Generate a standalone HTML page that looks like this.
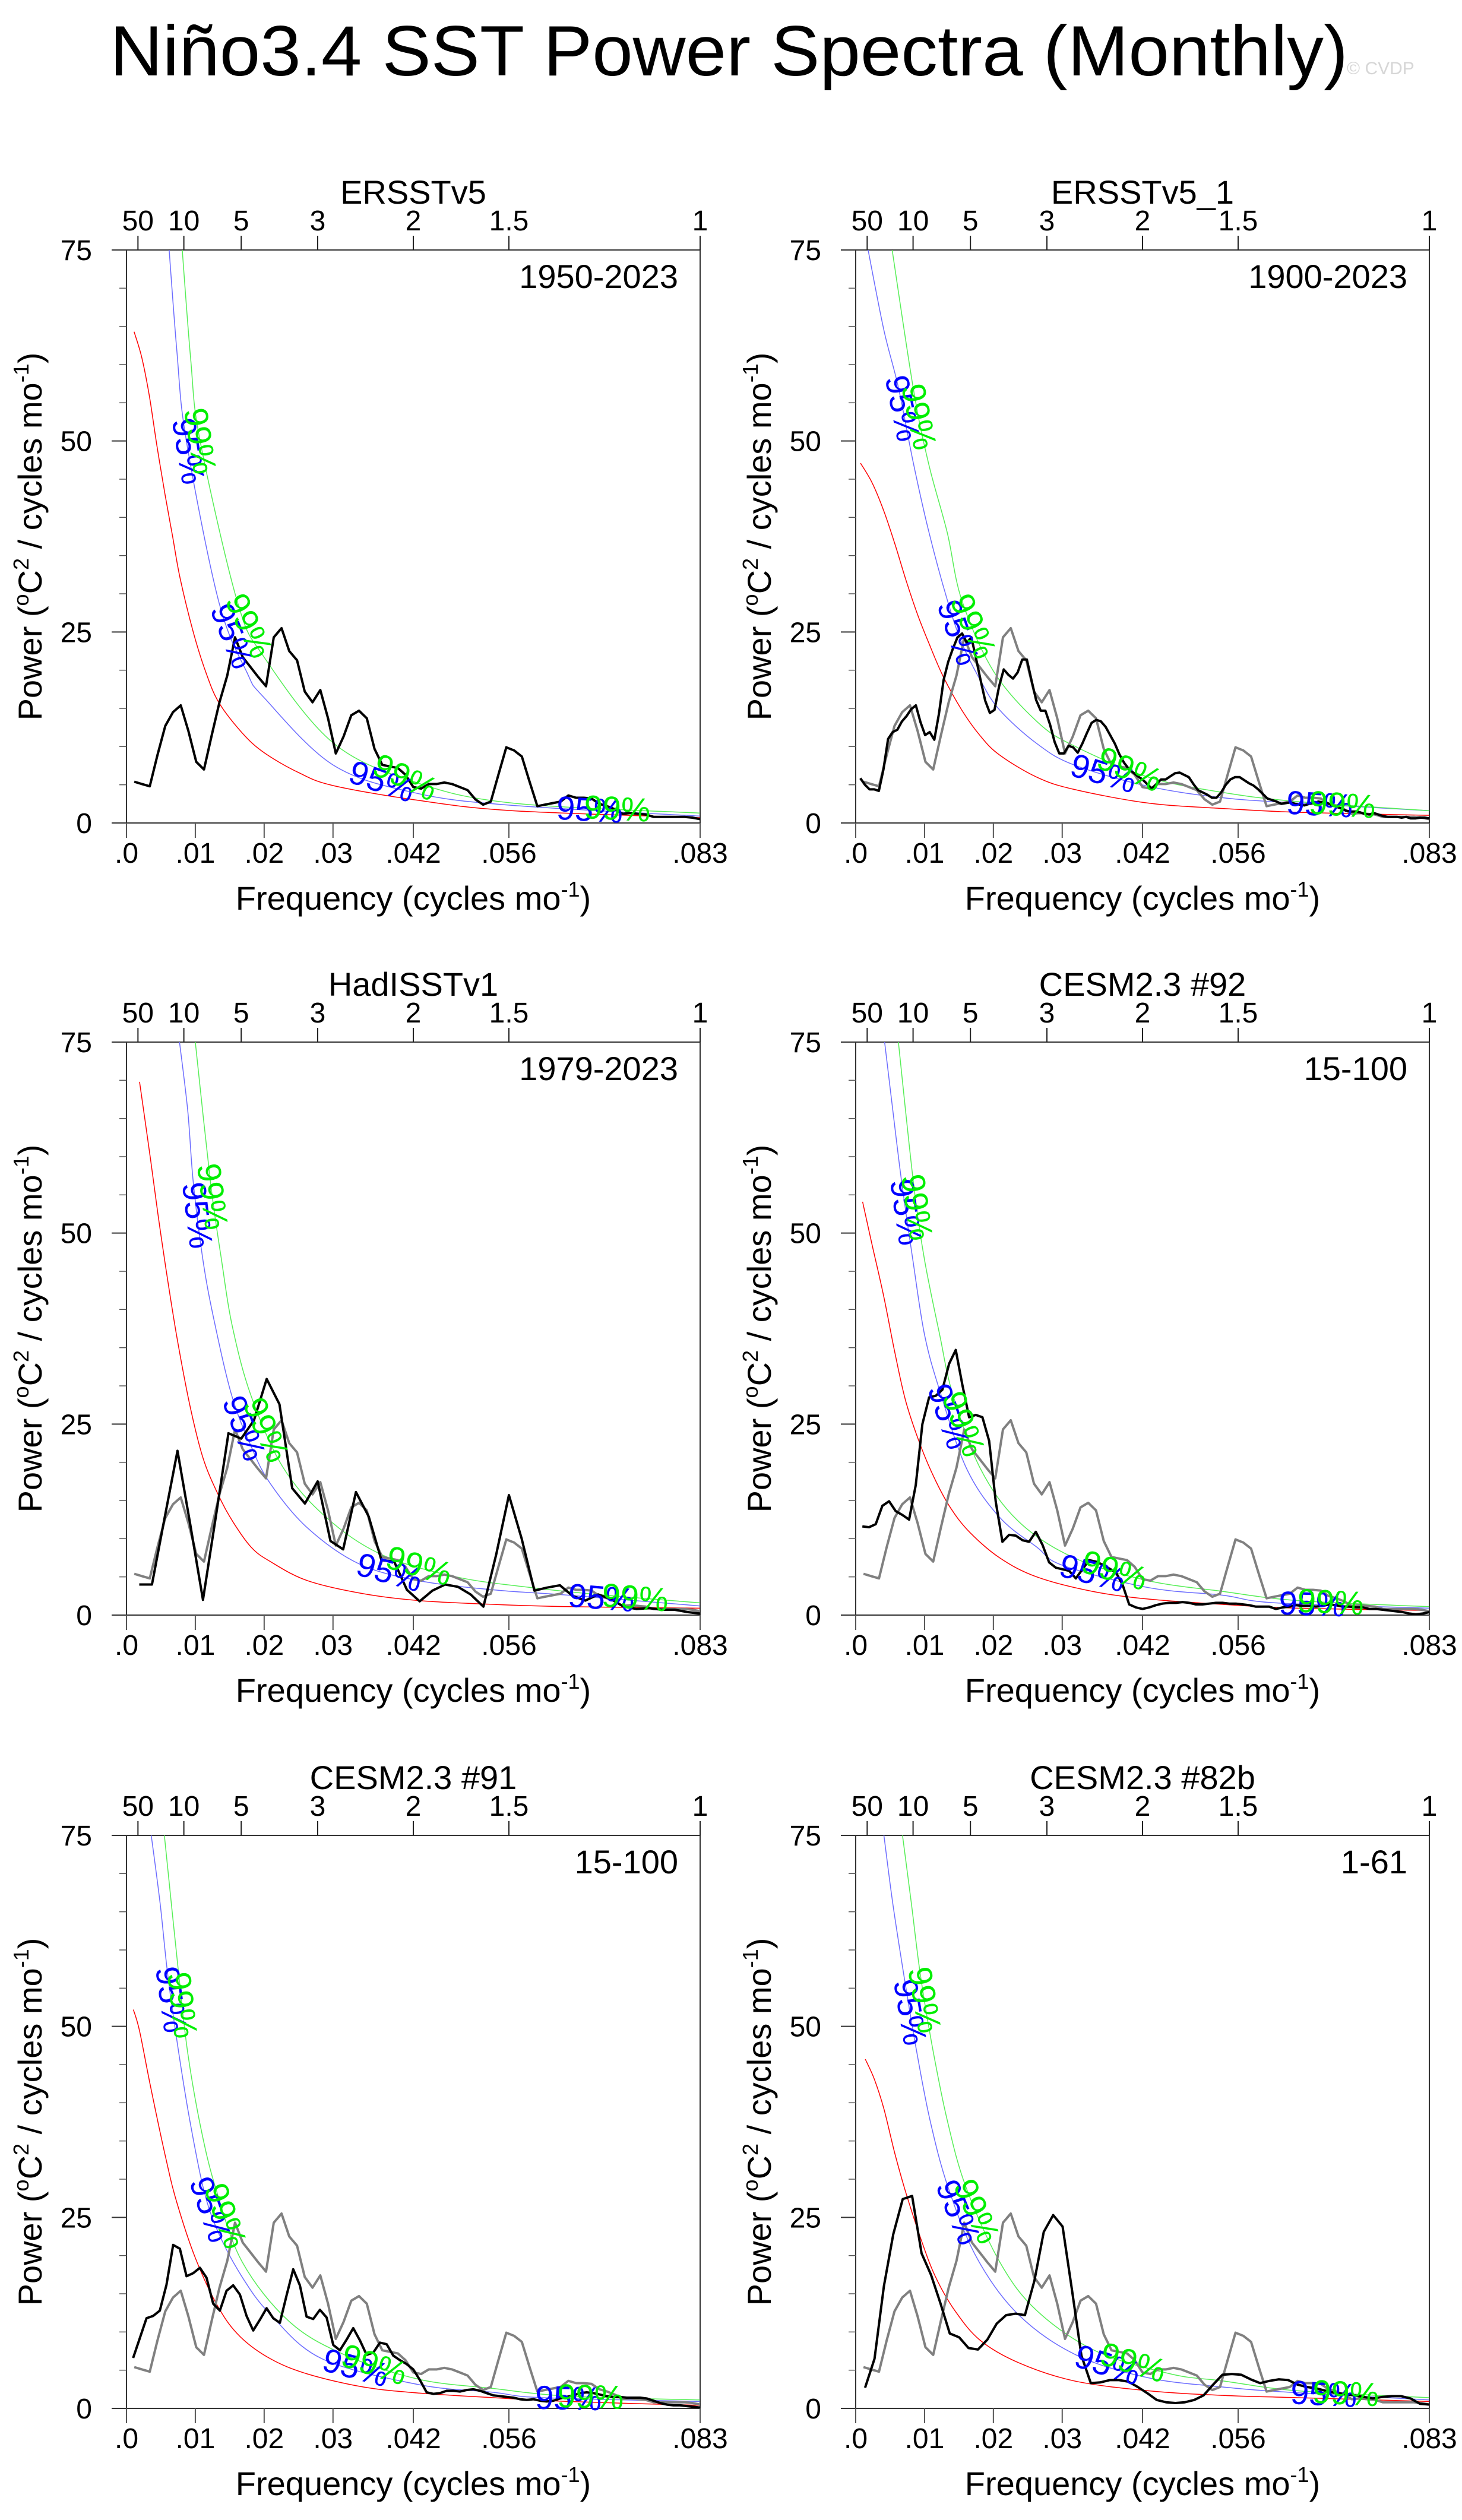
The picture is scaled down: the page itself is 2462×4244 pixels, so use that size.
<!DOCTYPE html>
<html><head><meta charset="utf-8"><title>Niño3.4 SST Power Spectra</title>
<style>html,body{margin:0;padding:0;background:#fff}svg{display:block}text{font-family:"Liberation Sans",sans-serif}</style>
</head><body>
<svg id="fig" xmlns="http://www.w3.org/2000/svg" width="2462" height="4244" viewBox="0 0 2462 4244">
<rect width="2462" height="4244" fill="#fff"/>
<text x="185" y="127" font-size="120" textLength="2085" lengthAdjust="spacingAndGlyphs" fill="#000">Niño3.4 SST Power Spectra (Monthly)</text>
<text x="2268" y="125" font-size="30" fill="#d6d6d6">© CVDP</text>
</svg>
<script>
// ---- ERSSTv5 1950-2023 spectrum (also the grey reference in other panels)
const p1Months = 888;
const p1Power = [5.4,5.1,4.8,8.9,12.7,14.5,15.4,12.0,8.0,7.0,11.5,15.8,19.3,24.3,21.7,20.4,19.1,17.9,24.3,25.5,22.5,21.3,17.2,15.8,17.4,13.7,9.1,11.3,14.1,14.7,13.7,9.7,7.6,7.4,7.2,6.3,4.7,4.5,5.1,5.1,5.3,5.1,4.7,4.3,3.1,2.4,2.8,6.4,9.9,9.5,8.7,5.4,2.2,2.4,2.6,2.8,3.6,3.3,3.3,3.2,2.5,2.2,1.8,1.2,1.3,1.2,1.1,0.8,0.8,0.8,0.8,0.8,0.7,0.5];
const p2Months = 1488;
const p2Power = [5.85,5.0,4.4,4.4,4.2,7.0,11.0,11.9,12.2,13.3,14.0,14.9,15.4,13.2,11.5,11.9,10.9,14.3,18.7,21.1,22.8,24.3,24.8,23.6,24.3,21.6,18.7,16.0,14.4,14.8,17.9,20.1,19.4,18.9,19.7,21.4,21.4,18.7,16.1,14.7,14.7,12.9,10.6,9.1,9.1,10.1,9.9,9.2,10.4,11.8,13.1,13.5,13.3,12.6,11.5,10.4,9.0,7.9,7.1,6.6,6.1,5.7,5.1,4.5,5.1,5.7,5.7,6.1,6.5,6.6,6.3,6.0,5.1,4.3,4.0,3.7,3.3,3.3,4.0,5.0,5.7,6.0,6.0,5.6,5.2,4.9,4.4,3.8,3.2,3.0,2.8,2.5,2.6,2.7,2.5,2.4,2.3,2.5,2.6,2.8,2.7,2.6,2.3,2.1,1.9,1.6,1.5,1.5,1.4,1.2,1.1,1.3,1.1,0.9,0.8,0.8,0.8,0.7,0.8,0.6,0.6,0.7,0.7,0.6];
const p3Months = 540;
const p3Power = [4.0,4.0,12.8,21.5,11.9,2.0,12.8,23.8,23.1,25.5,30.9,27.6,16.6,14.6,17.5,9.7,8.6,16.1,12.9,7.2,7.0,3.3,1.8,3.2,4.0,3.7,2.7,1.1,7.9,15.7,10.0,3.2,3.6,3.9,2.5,1.9,2.7,2.1,1.1,0.8,0.9,0.7,0.7,0.4,0.2];
const p4Months = 1032;
const p4Power = [11.6,11.5,11.9,14.3,14.9,13.6,13.1,12.5,17.0,25.0,28.5,28.7,29.5,32.9,34.7,30.1,25.9,26.2,25.9,22.8,14.8,9.6,10.5,10.4,9.8,9.6,10.9,9.2,6.9,6.2,6.0,5.8,4.8,6.0,7.2,7.0,6.6,6.1,5.6,4.0,1.4,1.0,0.8,1.0,1.3,1.5,1.6,1.6,1.7,1.6,1.4,1.4,1.5,1.6,1.6,1.5,1.5,1.4,1.3,1.1,1.1,1.1,0.8,1.0,1.1,1.3,1.2,1.2,1.1,1.2,1.4,1.3,1.1,1.1,1.0,1.0,0.8,0.8,0.7,0.6,0.5,0.4,0.2,0.1,0.2,0.4];
const p5Months = 1032;
const p5Power = [6.6,9.2,11.8,12.1,12.8,16.2,21.4,20.9,17.3,17.7,18.4,17.1,13.7,12.8,15.4,16.1,14.9,12.1,10.2,11.6,13.1,11.8,11.2,14.8,18.2,16.1,12.0,11.7,12.9,11.9,8.3,7.6,9.0,10.5,8.9,7.0,7.3,8.6,8.4,6.9,6.3,5.8,5.1,3.7,2.1,1.9,2.0,2.3,2.3,2.2,2.4,2.5,2.3,2.0,1.7,1.6,1.5,1.4,1.2,1.1,1.2,1.0,0.9,1.0,1.3,1.5,1.7,2.0,2.1,2.0,1.8,1.6,1.5,1.5,1.4,1.4,1.4,1.3,1.0,0.7,0.5,0.4,0.4,0.3,0.2,0.1];
const p6Months = 732;
const p6Power = [2.7,6.5,16.0,22.8,27.4,27.8,20.3,17.5,13.8,9.8,9.3,7.9,7.7,9.0,11.1,12.2,12.4,12.2,16.7,23.1,25.3,23.8,15.5,6.9,3.3,3.4,3.7,3.7,3.5,2.8,2.0,1.1,0.8,0.7,0.8,1.1,1.7,3.1,4.4,4.5,4.4,3.8,3.3,3.6,3.8,3.7,3.1,2.8,2.6,2.3,2.0,1.9,1.7,1.5,1.3,1.5,1.6,1.6,1.3,0.6,0.5];

// ---- red-noise fit and 95% / 99% confidence curves (frequency, power)
const p1RedF=[.0011,.0022,.0033,.0044,.0056,.0067,.0078,.0097,.0115,.0134,.0168,.0200,.0250,.0300,.0421,.0561,.0833];
const p1RedV=[64.3,61,56,49.5,43,37.5,32,25,19.8,15.8,11.8,9.2,6.6,4.9,3.0,1.6,0.7];
const p1BlueF=[.0058,.0073,.0087,.0134,.0175,.0200,.0300,.0421,.0561,.0833];
const p1BlueV=[80,62,50,29,19.7,16.4,7.6,3.9,2.3,0.9];
const p1GreenF=[.0077,.0093,.0107,.0161,.0200,.0300,.0421,.0561,.0833];
const p1GreenV=[80,61,50,29,21.7,10.5,5.3,2.6,1.3];

const p2RedF=[.0007,.0024,.0041,.0057,.0073,.0089,.0106,.0127,.0154,.0181,.0209,.0263,.0317,.0425,.0533,.0642,.0833];
const p2RedV=[47.1,44.5,40.8,36.5,31.8,27.5,23.6,19.2,14.8,11.4,8.9,6.0,4.4,2.6,1.9,1.4,1.0];
const p2BlueF=[.0018,.0041,.0062,.0084,.0106,.0133,.0154,.0181,.0209,.0263,.0317,.0425,.0533,.0642,.0833];
const p2BlueV=[75,64.5,57,47,38.2,29.2,23.6,18.7,14.8,10.4,7.6,4.8,3.3,2.6,1.6];
const p2GreenF=[.0053,.0084,.0106,.0133,.0154,.0200,.0263,.0317,.0425,.0533,.0642,.0833];
const p2GreenV=[75,56.7,47,38,29.2,19.9,13.3,10.1,6.0,4.0,2.8,1.6];

const p3RedF=[.0019,.0035,.0046,.0057,.0073,.0092,.0111,.0133,.0154,.0181,.0209,.0263,.0344,.0425,.0533,.0642,.0833];
const p3RedV=[69.8,59.6,52.3,45.5,36.5,27.5,20.6,15.8,12.3,8.9,7.0,4.5,2.8,1.9,1.4,1.1,0.9];
const p3BlueF=[.0077,.0089,.0097,.0111,.0127,.0153,.0181,.0209,.0263,.0338,.0425,.0533,.0642,.0833];
const p3BlueV=[75,66,56.7,46.5,38.7,28.7,22.1,17.2,11.4,6.7,4.5,3.3,2.6,1.2];
const p3GreenF=[.0100,.0122,.0138,.0154,.0181,.0227,.0290,.0371,.0479,.0588,.0696,.0833];
const p3GreenV=[75,56.7,46.5,37.7,28.7,19.4,12.8,7.9,5.0,3.6,2.6,1.6];

const p4RedF=[.0010,.0024,.0041,.0057,.0073,.0095,.0116,.0138,.0165,.0209,.0263,.0344,.0425,.0533,.0642,.0833];
const p4RedV=[54.1,48.4,41.6,34.3,27.9,22.0,17.6,14.0,10.9,7.5,5.0,3.1,2.1,1.4,0.9,0.6];
const p4BlueF=[.0042,.0054,.0067,.0083,.0100,.0122,.0161,.0209,.0263,.0301,.0425,.0533,.0609,.0833];
const p4BlueV=[75,66,56.5,46.5,36.7,29.4,19.2,12.8,8.9,6.5,3.6,2.6,1.6,0.9];
const p4GreenF=[.0062,.0084,.0100,.0122,.0141,.0181,.0236,.0317,.0425,.0533,.0642,.0833];
const p4GreenV=[75,56.5,46.5,36.7,28.9,19.2,12.3,7.5,4.5,3.1,1.9,1.1];

const p5RedF=[.0010,.0019,.0035,.0057,.0073,.0100,.0133,.0165,.0209,.0263,.0344,.0425,.0533,.0642,.0833];
const p5RedV=[52.2,49.4,42.1,32.8,27.0,19.7,13.3,9.4,6.5,4.5,2.8,2.0,1.4,0.9,0.4];
const p5BlueF=[.0036,.0049,.0060,.0076,.0092,.0112,.0133,.0168,.0209,.0284,.0425,.0533,.0604,.0833];
const p5BlueV=[75,66,56.7,46.5,37.7,28.7,23.1,17.2,12.3,6.5,3.1,2.1,1.4,0.9];
const p5GreenF=[.0055,.0076,.0089,.0108,.0130,.0168,.0236,.0317,.0425,.0533,.0642,.0833];
const p5GreenV=[75,56.7,46.5,36.7,28.7,19.2,11.4,7.0,3.8,2.6,1.6,1.1];

const p6RedF=[.0014,.0027,.0041,.0057,.0073,.0095,.0116,.0144,.0181,.0236,.0317,.0425,.0533,.0642,.0833];
const p6RedV=[45.7,43.1,39.2,33.3,28.2,22.1,17.2,12.8,8.9,6.0,3.6,2.3,1.7,1.4,0.9];
const p6BlueF=[.0041,.0054,.0070,.0088,.0108,.0134,.0176,.0236,.0320,.0425,.0533,.0631,.0833];
const p6BlueV=[75,66,56.7,47,37.7,29,19.7,12.3,7.0,4.0,2.8,2.1,1.1];
const p6GreenF=[.0068,.0081,.0094,.0112,.0133,.0160,.0209,.0263,.0349,.0458,.0533,.0642,.0833];
const p6GreenV=[75,66,56.7,47,37.7,29,19.2,12.8,7.5,4.5,3.6,2.3,1.4];

// ---- significance label positions (frequency along curve)
const p1Lab95=[.0090,.0154,.0371,.0673], p1Lab99=[.0107,.0178,.0405,.0713];
const p2Lab95=[.0068,.0149,.0360,.0674], p2Lab99=[.0092,.0171,.0398,.0707];
const p3Lab95=[.0103,.0171,.0382,.0690], p3Lab99=[.0125,.0203,.0425,.0739];
const p4Lab95=[.0073,.0135,.0344,.0663], p4Lab99=[.0089,.0157,.0376,.0690];
const p5Lab95=[.0065,.0122,.0333,.0642], p5Lab99=[.0081,.0144,.0360,.0674];
const p6Lab95=[.0079,.0149,.0366,.0680], p6Lab99=[.0100,.0176,.0403,.0712];

// ---- axis ticks
const yTicks=[0,25,50,75];
const yMinorTicks=[5,10,15,20,30,35,40,45,55,60,65,70];
const xTickVals=[0,0.01,0.02,0.03,1/24,1/18,1/12];
const xTickLabels=[".0",".01",".02",".03",".042",".056",".083"];
const periodVals=[50,10,5,3,2,1.5,1];
const periodLabels=["50","10","5","3","2","1.5","1"];

const panelTitles=["ERSSTv5","ERSSTv5_1","HadISSTv1","CESM2.3 #92","CESM2.3 #91","CESM2.3 #82b"];
const panelRanges=["1950-2023","1900-2023","1979-2023","15-100","15-100","1-61"];

const NS="http://www.w3.org/2000/svg";
const svg=document.getElementById('fig');
const W=966,H=965,FMAX=1/12,YMAX=75;
const panels=[
 {x:213,y:421,months:p1Months,power:p1Power,grey:false,rf:p1RedF,rv:p1RedV,bf:p1BlueF,bv:p1BlueV,gf:p1GreenF,gv:p1GreenV,l95:p1Lab95,l99:p1Lab99},
 {x:1441,y:421,months:p2Months,power:p2Power,grey:true,rf:p2RedF,rv:p2RedV,bf:p2BlueF,bv:p2BlueV,gf:p2GreenF,gv:p2GreenV,l95:p2Lab95,l99:p2Lab99},
 {x:213,y:1755,months:p3Months,power:p3Power,grey:true,rf:p3RedF,rv:p3RedV,bf:p3BlueF,bv:p3BlueV,gf:p3GreenF,gv:p3GreenV,l95:p3Lab95,l99:p3Lab99},
 {x:1441,y:1755,months:p4Months,power:p4Power,grey:true,rf:p4RedF,rv:p4RedV,bf:p4BlueF,bv:p4BlueV,gf:p4GreenF,gv:p4GreenV,l95:p4Lab95,l99:p4Lab99},
 {x:213,y:3091,months:p5Months,power:p5Power,grey:true,rf:p5RedF,rv:p5RedV,bf:p5BlueF,bv:p5BlueV,gf:p5GreenF,gv:p5GreenV,l95:p5Lab95,l99:p5Lab99},
 {x:1441,y:3091,months:p6Months,power:p6Power,grey:true,rf:p6RedF,rv:p6RedV,bf:p6BlueF,bv:p6BlueV,gf:p6GreenF,gv:p6GreenV,l95:p6Lab95,l99:p6Lab99}
];
function el(tag,attrs,parent){const e=document.createElementNS(NS,tag);for(const k in attrs)e.setAttribute(k,attrs[k]);(parent||svg).appendChild(e);return e;}
function xs(p,f){return p.x+f/FMAX*W;}
function ys(p,v){return p.y+H-v/YMAX*H;}
function linePath(pts){return pts.map((q,i)=>(i?'L':'M')+q[0].toFixed(1)+','+q[1].toFixed(1)).join('');}
function smoothPath(pts){let d='M'+pts[0][0].toFixed(1)+','+pts[0][1].toFixed(1);
 for(let i=0;i<pts.length-1;i++){const p0=pts[Math.max(0,i-1)],p1=pts[i],p2=pts[i+1],p3=pts[Math.min(pts.length-1,i+2)];
  const c1=[p1[0]+(p2[0]-p0[0])/6,p1[1]+(p2[1]-p0[1])/6],c2=[p2[0]-(p3[0]-p1[0])/6,p2[1]-(p3[1]-p1[1])/6];
  d+='C'+c1[0].toFixed(1)+','+c1[1].toFixed(1)+' '+c2[0].toFixed(1)+','+c2[1].toFixed(1)+' '+p2[0].toFixed(1)+','+p2[1].toFixed(1);}
 return d;}
function interp(F,V,f){if(f<=F[0])return V[0];for(let i=1;i<F.length;i++){if(f<=F[i]){const t=(f-F[i-1])/(F[i]-F[i-1]);return V[i-1]+t*(V[i]-V[i-1]);}}return V[V.length-1];}

panels.forEach((p,pi)=>{
 const g=el('g',{});
 
 
 const cp=el('clipPath',{id:'clip'+pi},g);
 el('rect',{x:p.x,y:p.y,width:W,height:H},cp);
 const t=el('text',{x:p.x+W/2,y:p.y-78,'font-size':56,'text-anchor':'middle'},g);t.textContent=panelTitles[pi];
 
 
 const r=el('text',{x:p.x+W-37,y:p.y+64,'font-size':56,'text-anchor':'end'},g);r.textContent=panelRanges[pi];
 
 
 const fr=el('rect',{x:p.x,y:p.y,width:W,height:H,fill:'none',stroke:'#333','stroke-width':2},g);
 
 
 yTicks.forEach(v=>{const yy=ys(p,v);
  el('line',{x1:p.x-25,x2:p.x,y1:yy,y2:yy,stroke:'#333','stroke-width':2},g);
  const tl=el('text',{x:p.x-58,y:yy+17,'font-size':48,'text-anchor':'end'},g);tl.textContent=String(v);
  
  });
 yMinorTicks.forEach(v=>{const yy=ys(p,v);el('line',{x1:p.x-12,x2:p.x,y1:yy,y2:yy,stroke:'#555','stroke-width':1.5},g);});
 xTickVals.forEach((f,i)=>{const xx=xs(p,f);
  el('line',{x1:xx,x2:xx,y1:p.y+H,y2:p.y+H+25,stroke:'#555','stroke-width':2},g);
  const tl=el('text',{x:xx,y:p.y+H+67,'font-size':48,'text-anchor':'middle'},g);tl.textContent=xTickLabels[i];
  
  });
 periodVals.forEach((P,i)=>{const xx=xs(p,1/(12*P));
  el('line',{x1:xx,x2:xx,y1:p.y,y2:p.y-24,stroke:'#222','stroke-width':2},g);
  const tl=el('text',{x:xx,y:p.y-33,'font-size':48,'text-anchor':'middle'},g);tl.textContent=periodLabels[i];
  
  });
 const xt=el('text',{x:p.x+W/2,y:p.y+H+146,'font-size':56,'text-anchor':'middle'},g);
 xt.innerHTML='Frequency (cycles mo<tspan dy="-22" font-size="36">-1</tspan><tspan dy="22">)</tspan>';
 
 
 const yx=p.x-143,yy0=p.y+H/2;
 const yt=el('text',{x:yx,y:yy0,'font-size':56,'text-anchor':'middle',transform:'rotate(-90 '+yx+' '+yy0+')'},g);
 yt.innerHTML='Power (<tspan dy="-22" font-size="36">o</tspan><tspan dy="22">C</tspan><tspan dy="-22" font-size="36">2</tspan><tspan dy="22"> / cycles mo</tspan><tspan dy="-22" font-size="36">-1</tspan><tspan dy="22">)</tspan>';
 
 
 const cg=el('g',{'clip-path':'url(#clip'+pi+')'},g);
 const red=el('path',{d:smoothPath(p.rf.map((f,i)=>[xs(p,f),ys(p,p.rv[i])])),fill:'none',stroke:'#ff0000','stroke-width':1.5},cg);
 
 
 const blue=el('path',{d:smoothPath(p.bf.map((f,i)=>[xs(p,f),ys(p,p.bv[i])])),fill:'none',stroke:'#6b6bff','stroke-width':1.5},cg);
 
 
 const green=el('path',{d:smoothPath(p.gf.map((f,i)=>[xs(p,f),ys(p,p.gv[i])])),fill:'none',stroke:'#55ee55','stroke-width':1.5},cg);
 
 
 if(p.grey){
  const gr=el('path',{d:linePath(p1Power.map((v,i)=>[xs(p,(i+1)/p1Months),ys(p,v)])),fill:'none',stroke:'#808080','stroke-width':4,'stroke-linejoin':'round'},cg);
  
  
 }
 const bl=el('path',{d:linePath(p.power.map((v,i)=>[xs(p,Math.min((i+1)/p.months,FMAX)),ys(p,v)])),fill:'none',stroke:'#000','stroke-width':4,'stroke-linejoin':'round'},cg);
 
 
 function labels(F,V,list,txt,color,name){
  list.forEach(f=>{const x=xs(p,f),y=ys(p,interp(F,V,f));
   const x1=xs(p,f-0.0006),y1=ys(p,interp(F,V,f-0.0006)),x2=xs(p,f+0.0006),y2=ys(p,interp(F,V,f+0.0006));
   const ang=Math.atan2(y2-y1,x2-x1)*180/Math.PI;
   const lt=el('text',{x:x,y:y+19,'font-size':56,'text-anchor':'middle',fill:color,transform:'rotate('+ang.toFixed(1)+' '+x.toFixed(1)+' '+y.toFixed(1)+')'},g);
   lt.textContent=txt;
   
   });
 }
 labels(p.bf,p.bv,p.l95,'95%','#0000ff','label-95-percent');
 labels(p.gf,p.gv,p.l99,'99%','#00ee00','label-99-percent');
 svg.appendChild(g);
});
</script>
</body></html>
